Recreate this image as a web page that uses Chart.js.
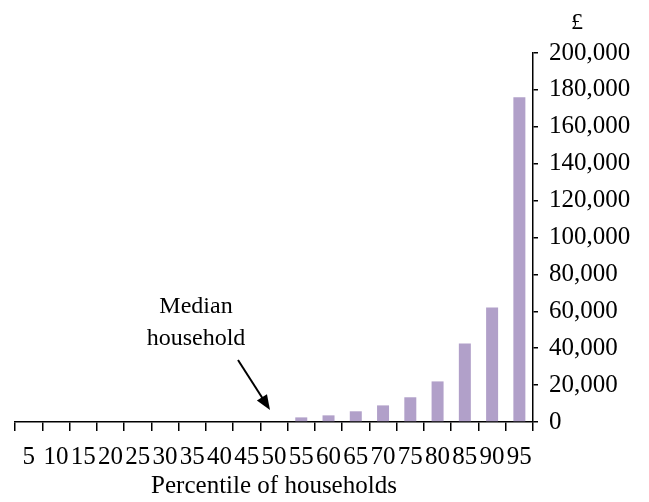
<!DOCTYPE html>
<html>
<head>
<meta charset="utf-8">
<script src="https://cdn.jsdelivr.net/npm/chart.js@4/dist/chart.umd.min.js"></script>
<style>
  body { margin: 0; background: #fff; }
  #wrap { width: 649px; height: 502px; }
</style>
</head>
<body>
<div id="wrap"><canvas id="myChart"></canvas></div>
<script>
const percentiles = ['5', '10', '15', '20', '25', '30', '35', '40', '45', '50',
                     '55', '60', '65', '70', '75', '80', '85', '90', '95'];
const wealth = [0, 0, 0, 0, 0, 0, 0, 0, 0, 0,
                2500, 3600, 5800, 9000, 13400, 22000, 42600, 62000, 176000];
const yMin = 0;
const yMax = 200000;
const yStep = 20000;
const medianIndex = 9;

const serif = '"Liberation Serif", "Times New Roman", serif';

// draws the £ sign and the "Median household" arrow
const notes = {
    id: 'notes',
    afterDraw(chart) {
        const ctx = chart.ctx;
        const x = chart.scales.x;
        const y = chart.scales.y;
        ctx.save();
        ctx.fillStyle = '#000';
        ctx.font = '24px ' + serif;
        ctx.textAlign = 'center';
        ctx.textBaseline = 'middle';
        ctx.fillText('£', x.right + 44, y.top - 30);

        const tipX = x.getPixelForValue(medianIndex) - 4;
        const tipY = y.getPixelForValue(0) - 12;
        ctx.fillText('Median', tipX - 74, tipY - 103);
        ctx.fillText('household', tipX - 74, tipY - 71);

        const sx = tipX - 32, sy = tipY - 50;
        const ang = Math.atan2(tipY - sy, tipX - sx);
        ctx.strokeStyle = '#000';
        ctx.lineWidth = 2;
        ctx.beginPath();
        ctx.moveTo(sx, sy);
        ctx.lineTo(tipX - 10 * Math.cos(ang), tipY - 10 * Math.sin(ang));
        ctx.stroke();
        ctx.beginPath();
        ctx.moveTo(tipX, tipY);
        ctx.lineTo(tipX - 15 * Math.cos(ang) + 6 * Math.sin(ang), tipY - 15 * Math.sin(ang) - 6 * Math.cos(ang));
        ctx.lineTo(tipX - 15 * Math.cos(ang) - 6 * Math.sin(ang), tipY - 15 * Math.sin(ang) + 6 * Math.cos(ang));
        ctx.closePath();
        ctx.fill();
        ctx.restore();
    }
};

const ctx = document.getElementById('myChart').getContext('2d');
new Chart(ctx, {
    type: 'bar',
    data: {
        labels: percentiles,
        datasets: [{
            data: wealth,
            backgroundColor: '#b1a0c9',
            borderWidth: 0,
            categoryPercentage: 1,
            barPercentage: 0.44
        }]
    },
    options: {
        responsive: true,
        maintainAspectRatio: false,
        animation: false,
        layout: { padding: { top: 53, left: 15, right: 0, bottom: 0 } },
        plugins: { legend: { display: false }, tooltip: { enabled: false } },
        scales: {
            x: {
                afterFit(scale) { scale.height = 80; },
                grid: {
                    display: true,
                    drawOnChartArea: false,
                    offset: true,
                    color: '#000',
                    lineWidth: 1.5,
                    tickLength: 9
                },
                border: { display: true, color: '#000', width: 1.5 },
                ticks: {
                    autoSkip: false,
                    maxRotation: 0,
                    minRotation: 0,
                    color: '#000',
                    padding: 11,
                    font: { family: serif, size: 25 }
                },
                title: {
                    display: true,
                    text: 'Percentile of households',
                    color: '#000',
                    padding: { top: 0, bottom: 1 },
                    font: { family: serif, size: 25 }
                }
            },
            y: {
                position: 'right',
                min: yMin,
                max: yMax,
                afterFit(scale) { scale.width = 116; },
                grid: {
                    display: true,
                    drawOnChartArea: false,
                    color: '#000',
                    lineWidth: 1.5,
                    tickLength: 5
                },
                border: { display: true, color: '#000', width: 1.5 },
                ticks: {
                    stepSize: yStep,
                    color: '#000',
                    padding: 11,
                    font: { family: serif, size: 25 },
                    callback: v => v.toLocaleString('en-GB')
                }
            }
        }
    },
    plugins: [notes]
});
</script>
</body>
</html>
